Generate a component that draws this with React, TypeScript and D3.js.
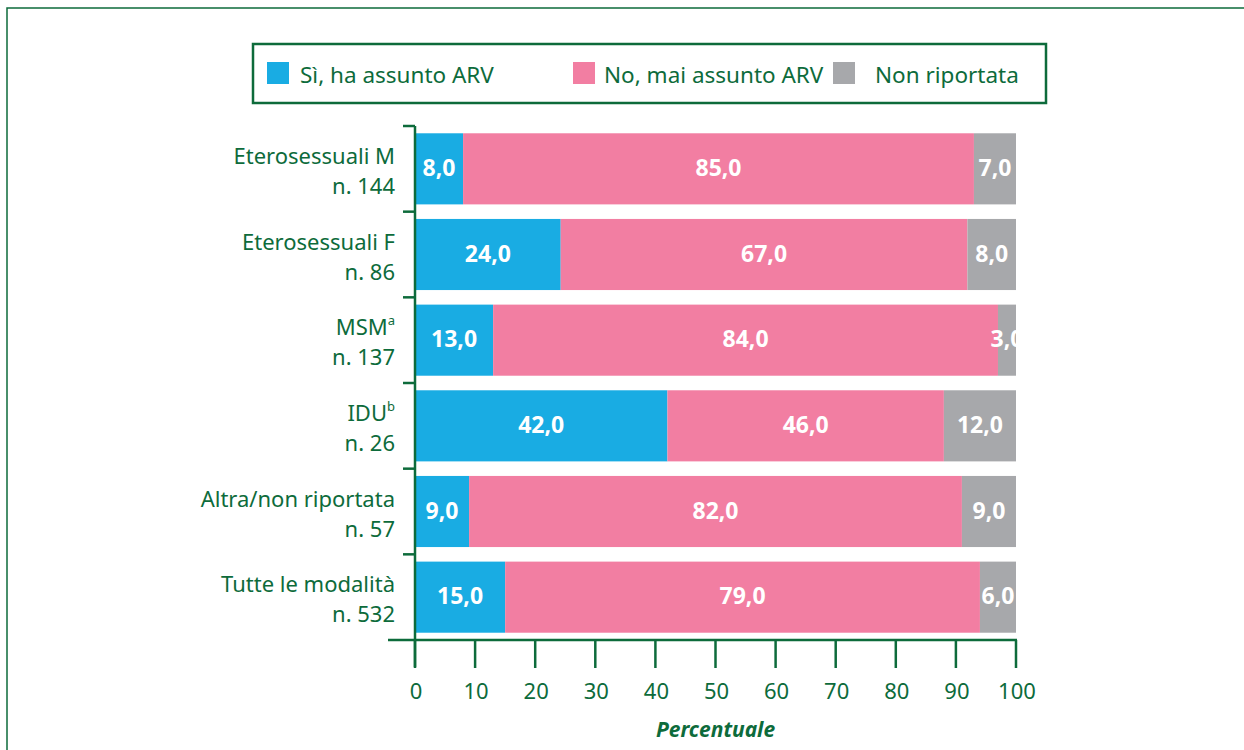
import React from 'react';
import * as d3 from 'd3';

const categories = ['Eterosessuali M', 'Eterosessuali F', 'MSM', 'IDU', 'Altra/non riportata', 'Tutte le modalità'];
const counts = ['n. 144', 'n. 86', 'n. 137', 'n. 26', 'n. 57', 'n. 532'];
const superscripts = ['', '', 'a', 'b', '', ''];
const siValues = [8, 24, 13, 42, 9, 15];
const noValues = [85, 67, 84, 46, 82, 79];
const nrValues = [7, 8, 3, 12, 9, 6];
const seriesKeys = ['si', 'no', 'nr'];
const seriesNames = ['Sì, ha assunto ARV', 'No, mai assunto ARV', 'Non riportata'];
const seriesColors = ['#19ace3', '#f27ea2', '#a7a8ab'];
const xTicks = [0, 10, 20, 30, 40, 50, 60, 70, 80, 90, 100];

const GREEN = '#0d6b3b';
const FONT = '"Noto Sans", "Open Sans", sans-serif';

const App = () => {
  const width = 1244;
  const height = 750;
  const x = d3.scaleLinear().domain([0, 100]).range([415, 1016]);
  const y = d3.scaleBand().domain(categories).range([126, 640]).paddingInner(0.17).paddingOuter(0.085);
  const step = y.step();

  // stacked rows, expanded to 100% as in the original
  const table = categories.map((c, i) => ({ c, si: siValues[i], no: noValues[i], nr: nrValues[i] }));
  const stacked = d3.stack<any>().keys(seriesKeys).offset(d3.stackOffsetExpand)(table);

  const fmt = (v: number) => v.toFixed(1).replace('.', ',');

  // legend positions (square x, text x)
  const legendPos = [
    { sq: 267, tx: 300 },
    { sq: 573, tx: 604 },
    { sq: 833, tx: 875 },
  ];

  return (
    <svg width={width} height={height} style={{ position: 'absolute', left: 0, top: 0 }} fontFamily={FONT}>
      <rect width={width} height={height} fill="#fff" />
      <path d="M7,750 V8 H1244" fill="none" stroke={GREEN} strokeWidth={1.5} />

      {/* legend */}
      <rect x={253} y={44} width={793} height={59} fill="none" stroke={GREEN} strokeWidth={2.5} />
      {legendPos.map((p, k) => (
        <g key={k}>
          <rect x={p.sq} y={62} width={22} height={22} fill={seriesColors[k]} />
          <text x={p.tx} y={83} fontSize={22.5} fill={GREEN}>
            {seriesNames[k]}
          </text>
        </g>
      ))}

      <defs>
        <clipPath id="plotClip">
          <rect x={x(0)} y={0} width={x(100) - x(0)} height={height} />
        </clipPath>
      </defs>

      {/* bars */}
      <g clipPath="url(#plotClip)">
        {stacked.map((layer, k) => (
          <g key={layer.key} fill={seriesColors[k]}>
            {layer.map((d: any) => (
              <rect
                key={d.data.c}
                x={x(d[0] * 100)}
                y={y(d.data.c)}
                width={x(d[1] * 100) - x(d[0] * 100)}
                height={y.bandwidth()}
              />
            ))}
          </g>
        ))}
        {stacked.map(layer => (
          <g key={'t' + layer.key} fill="#fff" fontSize={23} fontWeight="bold" textAnchor="middle">
            {layer.map((d: any) => (
              <text
                key={d.data.c}
                x={(x(d[0] * 100) + x(d[1] * 100)) / 2}
                y={(y(d.data.c) as number) + y.bandwidth() / 2 + 7}
              >
                {fmt(d.data[layer.key])}
              </text>
            ))}
          </g>
        ))}
      </g>

      {/* left axis */}
      <line x1={x(0)} x2={x(0)} y1={126} y2={667} stroke={GREEN} strokeWidth={2.5} />
      {categories.map((c, i) => (
        <line key={c} x1={403} x2={x(0)} y1={126 + i * step} y2={126 + i * step} stroke={GREEN} strokeWidth={2.5} />
      ))}
      {categories.map((c, i) => {
        const cy = 126 + (i + 0.5) * step;
        return (
          <g key={'l' + c} fill={GREEN} fontSize={22} textAnchor="end">
            <text x={395} y={cy - 5}>
              {c}
              {superscripts[i] && <tspan fontSize={13} dy={-10}>{superscripts[i]}</tspan>}
            </text>
            <text x={395} y={cy + 25}>{counts[i]}</text>
          </g>
        );
      })}

      {/* bottom axis */}
      <line x1={388} x2={x(100) + 1} y1={640} y2={640} stroke={GREEN} strokeWidth={2.5} />
      {xTicks.map(t => (
        <g key={t}>
          <line x1={x(t)} x2={x(t)} y1={640} y2={668} stroke={GREEN} strokeWidth={2.5} />
          <text x={x(t) + 1} y={699} textAnchor="middle" fontSize={22} fill={GREEN}>{t}</text>
        </g>
      ))}
      <text x={x(50)} y={737} textAnchor="middle" fontSize={21} fontWeight="bold" fontStyle="italic" fill={GREEN}>
        Percentuale
      </text>
    </svg>
  );
};

export default App;
